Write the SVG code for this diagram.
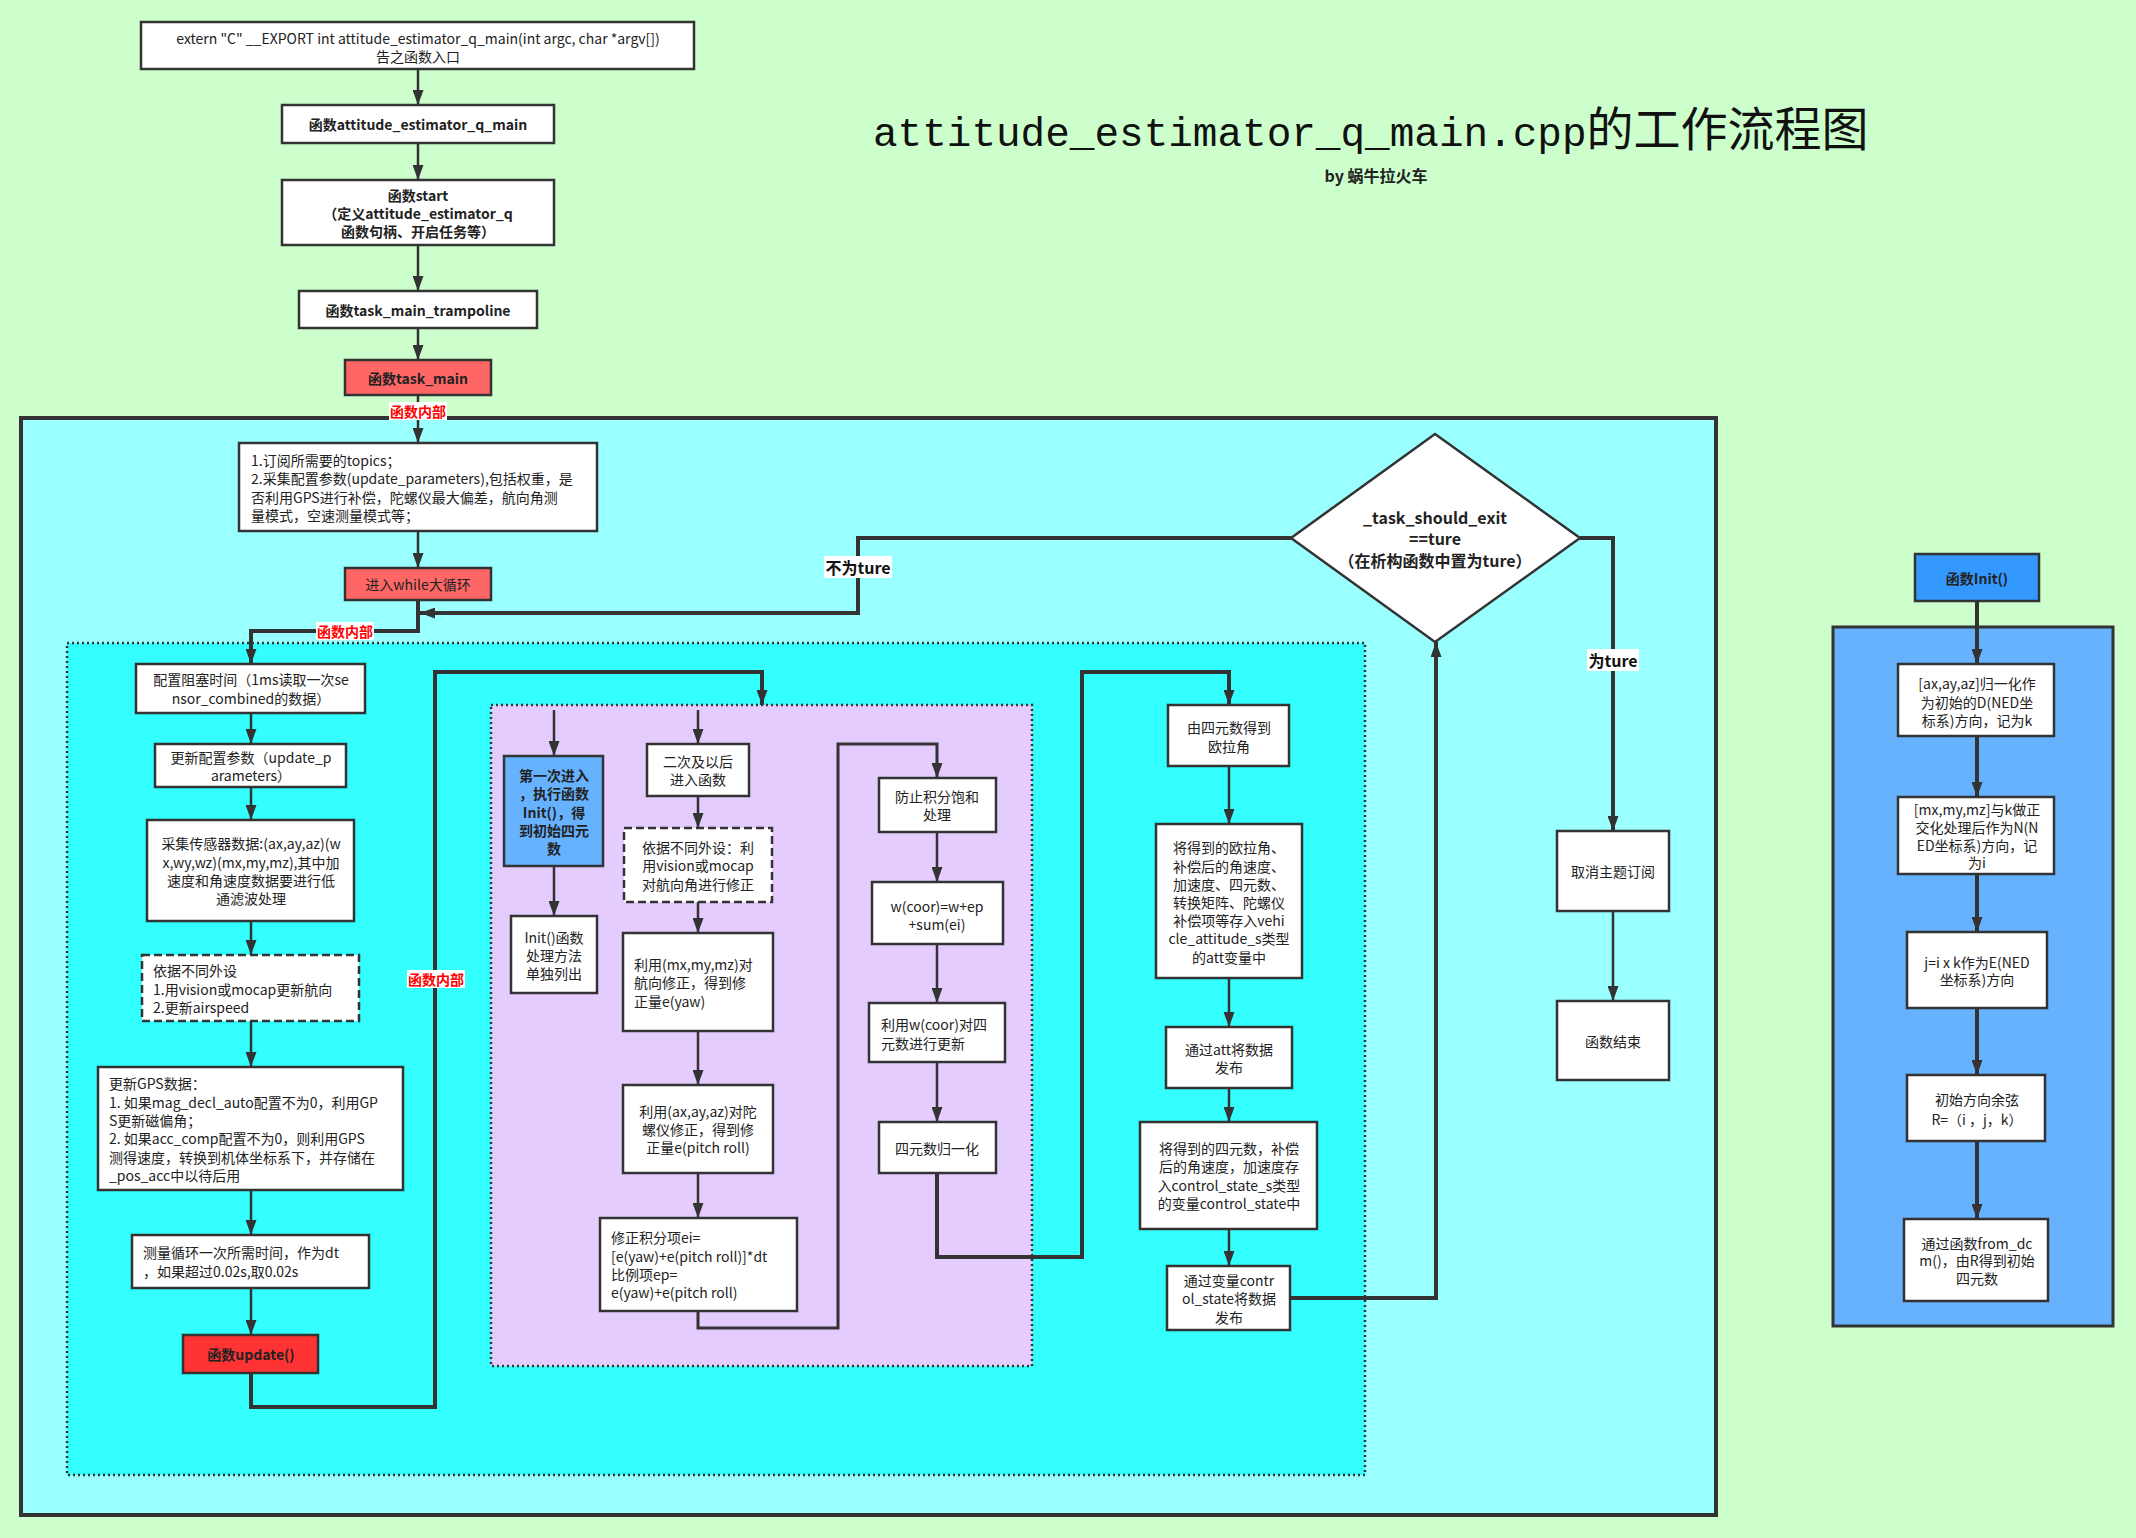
<svg xmlns="http://www.w3.org/2000/svg" width="2136" height="1538" viewBox="0 0 2136 1538">
<defs>
<style>
.n{fill:#fff;stroke:#333;stroke-width:2.5}
.d{stroke-dasharray:8 4}
.t{font-family:"Noto Sans CJK SC","Liberation Sans",sans-serif;font-size:14px;fill:#222;dominant-baseline:central}
.m{text-anchor:middle}
.b{font-weight:bold}
.c{fill:none;stroke:#333;stroke-width:2.5}
.k{stroke-width:4}
.lbg{fill:#fff;stroke:none}
.lr{font-family:"Noto Sans CJK SC","Liberation Sans",sans-serif;font-size:14px;font-weight:bold;fill:#ff0000;text-anchor:middle;dominant-baseline:central}
.lb{font-family:"Noto Sans CJK SC","Liberation Sans",sans-serif;font-size:16px;font-weight:bold;fill:#111;text-anchor:middle;dominant-baseline:central}
</style>
<marker id="a" viewBox="0 0 15 11" refX="15" refY="5.5" markerWidth="15" markerHeight="11" markerUnits="userSpaceOnUse" orient="auto">
<path d="M0,0 L15,5.5 L0,11 z" fill="#333"/>
</marker>
</defs>
<rect x="0" y="0" width="2136" height="1538" fill="#ccffcc"/>

<g id="title">
<text x="873" y="146" fill="#111"><tspan font-family="Liberation Mono, monospace" font-size="41">attitude_estimator_q_main.cpp</tspan><tspan font-family="Noto Sans CJK SC, sans-serif" font-size="47">的工作流程图</tspan></text>
<text x="1376" y="175" class="t m b" style="font-size:16px">by 蜗牛拉火车</text>
</g>

<g id="containers">
<rect x="21" y="418" width="1695" height="1097" fill="#99ffff" stroke="#333" stroke-width="4"/>
<rect x="67" y="643" width="1298" height="832" fill="#33ffff" stroke="#333" stroke-width="2.5" stroke-dasharray="2 3"/>
<rect x="491" y="705" width="541" height="661" fill="#e5ccff" stroke="#333" stroke-width="2.5" stroke-dasharray="2 3"/>
<rect x="1833" y="627" width="280" height="699" fill="#66b2ff" stroke="#333" stroke-width="3"/>
</g>

<g id="connectors">
<path class="c" d="M418,69 V105" marker-end="url(#a)"/>
<path class="c" d="M418,143 V180" marker-end="url(#a)"/>
<path class="c" d="M418,245 V291" marker-end="url(#a)"/>
<path class="c" d="M418,328 V360" marker-end="url(#a)"/>
<path class="c" d="M418,395 V443" marker-end="url(#a)"/>
<path class="c" d="M418,531 V568" marker-end="url(#a)"/>
<path class="c k" d="M418,600 V631 H251 V664" marker-end="url(#a)"/>
<path class="c k" d="M1291,538 H858 V613 H420" marker-end="url(#a)"/>
<path class="c k" d="M1580,538 H1613 V831" marker-end="url(#a)"/>
<path class="c" d="M1613,911 V1001" marker-end="url(#a)"/>
<path class="c" d="M251,713 V744" marker-end="url(#a)"/>
<path class="c" d="M251,787 V820" marker-end="url(#a)"/>
<path class="c" d="M251,921 V955" marker-end="url(#a)"/>
<path class="c" d="M251,1021 V1067" marker-end="url(#a)"/>
<path class="c" d="M251,1190 V1235" marker-end="url(#a)"/>
<path class="c" d="M251,1288 V1335" marker-end="url(#a)"/>
<path class="c k" d="M251,1373 V1407 H435 V672 H762 V705" marker-end="url(#a)"/>
<path class="c" d="M554,710 V756" marker-end="url(#a)"/>
<path class="c" d="M554,866 V916" marker-end="url(#a)"/>
<path class="c" d="M698,710 V744" marker-end="url(#a)"/>
<path class="c" d="M698,796 V828" marker-end="url(#a)"/>
<path class="c" d="M698,902 V933" marker-end="url(#a)"/>
<path class="c" d="M698,1031 V1085" marker-end="url(#a)"/>
<path class="c" d="M698,1173 V1218" marker-end="url(#a)"/>
<path class="c" style="stroke-width:3" d="M698,1311 V1328 H838 V744 H937 V778" marker-end="url(#a)"/>
<path class="c" d="M937,832 V882" marker-end="url(#a)"/>
<path class="c" d="M937,944 V1003" marker-end="url(#a)"/>
<path class="c" d="M937,1062 V1122" marker-end="url(#a)"/>
<path class="c k" d="M937,1173 V1257 H1082 V672 H1229 V705" marker-end="url(#a)"/>
<path class="c" d="M1229,766 V824" marker-end="url(#a)"/>
<path class="c" d="M1229,978 V1027" marker-end="url(#a)"/>
<path class="c" d="M1229,1088 V1122" marker-end="url(#a)"/>
<path class="c" d="M1229,1229 V1266" marker-end="url(#a)"/>
<path class="c k" d="M1290,1298 H1436 V642" marker-end="url(#a)"/>
<path class="c k" d="M1977,601 V664" marker-end="url(#a)"/>
<path class="c k" d="M1977,736 V797" marker-end="url(#a)"/>
<path class="c k" d="M1977,874 V932" marker-end="url(#a)"/>
<path class="c k" d="M1977,1008 V1075" marker-end="url(#a)"/>
<path class="c k" d="M1977,1141 V1219" marker-end="url(#a)"/>
<g id="conn-labels">
<rect class="lbg" x="389" y="402" width="58" height="18"/>
<text class="lr" x="418" y="411">函数内部</text>
<rect class="lbg" x="316" y="622" width="58" height="18"/>
<text class="lr" x="345" y="631">函数内部</text>
<rect class="lbg" x="407" y="970" width="58" height="18"/>
<text class="lr" x="436" y="979">函数内部</text>
<rect class="lbg" x="824" y="556" width="68" height="22"/>
<text class="lb" x="858" y="567">不为ture</text>
<rect class="lbg" x="1587" y="649" width="52" height="22"/>
<text class="lb" x="1613" y="660">为ture</text>
</g>
</g>

<g id="n-entry">
<rect class="n" x="141" y="22" width="553" height="47"/>
<text class="t m" x="418" y="38">extern "C" __EXPORT int attitude_estimator_q_main(int argc, char *argv[])</text>
<text class="t m" x="418" y="56">告之函数入口</text>
</g>
<g id="n-main">
<rect class="n" x="282" y="105" width="272" height="38"/>
<text class="t m b" x="418" y="124">函数attitude_estimator_q_main</text>
</g>
<g id="n-start">
<rect class="n" x="282" y="180" width="272" height="65"/>
<text class="t m b" x="418"><tspan x="418" y="195">函数start</tspan><tspan x="418" y="213">（定义attitude_estimator_q</tspan><tspan x="418" y="231">函数句柄、开启任务等）</tspan></text>
</g>
<g id="n-trampoline">
<rect class="n" x="299" y="291" width="238" height="37"/>
<text class="t m b" x="418" y="310">函数task_main_trampoline</text>
</g>
<g id="n-taskmain">
<rect class="n" style="fill:#ff6666" x="345" y="360" width="146" height="35"/>
<text class="t m b" x="418" y="378">函数task_main</text>
</g>
<g id="n-topics">
<rect class="n" x="239" y="443" width="358" height="88"/>
<text class="t" x="251"><tspan x="251" y="460">1.订阅所需要的topics；</tspan><tspan x="251" y="478">2.采集配置参数(update_parameters),包括权重，是</tspan><tspan x="251" y="497">否利用GPS进行补偿，陀螺仪最大偏差，航向角测</tspan><tspan x="251" y="515">量模式，空速测量模式等；</tspan></text>
</g>
<g id="n-while">
<rect class="n" style="fill:#ff6666" x="345" y="568" width="146" height="32"/>
<text class="t m" x="418" y="584">进入while大循环</text>
</g>
<g id="n-block">
<rect class="n" x="136" y="664" width="229" height="49"/>
<text class="t m"><tspan x="251" y="679">配置阻塞时间（1ms读取一次se</tspan><tspan x="251" y="698">nsor_combined的数据）</tspan></text>
</g>
<g id="n-params">
<rect class="n" x="155" y="744" width="191" height="43"/>
<text class="t m"><tspan x="251" y="757">更新配置参数（update_p</tspan><tspan x="251" y="775">arameters）</tspan></text>
</g>
<g id="n-sensors">
<rect class="n" x="147" y="820" width="207" height="101"/>
<text class="t m"><tspan x="251" y="843">采集传感器数据:(ax,ay,az)(w</tspan><tspan x="251" y="862">x,wy,wz)(mx,my,mz),其中加</tspan><tspan x="251" y="880">速度和角速度数据要进行低</tspan><tspan x="251" y="898">通滤波处理</tspan></text>
</g>
<g id="n-ext">
<rect class="n d" x="142" y="955" width="217" height="66"/>
<text class="t"><tspan x="153" y="970">依据不同外设</tspan><tspan x="153" y="989">1.用vision或mocap更新航向</tspan><tspan x="153" y="1007">2.更新airspeed</tspan></text>
</g>
<g id="n-gps">
<rect class="n" x="98" y="1067" width="305" height="123"/>
<text class="t"><tspan x="109" y="1083">更新GPS数据：</tspan><tspan x="109" y="1102">1. 如果mag_decl_auto配置不为0，利用GP</tspan><tspan x="109" y="1120">S更新磁偏角；</tspan><tspan x="109" y="1138">2. 如果acc_comp配置不为0，则利用GPS</tspan><tspan x="109" y="1157">测得速度，转换到机体坐标系下，并存储在</tspan><tspan x="109" y="1175">_pos_acc中以待后用</tspan></text>
</g>
<g id="n-dt">
<rect class="n" x="132" y="1235" width="237" height="53"/>
<text class="t"><tspan x="143" y="1252">测量循环一次所需时间，作为dt</tspan><tspan x="143" y="1271">，如果超过0.02s,取0.02s</tspan></text>
</g>
<g id="n-update">
<rect class="n" style="fill:#ff3333" x="183" y="1335" width="135" height="38"/>
<text class="t m b" x="251" y="1354">函数update()</text>
</g>
<g id="n-first">
<rect class="n" style="fill:#66b2ff" x="504" y="756" width="99" height="110"/>
<text class="t m b"><tspan x="554" y="775">第一次进入</tspan><tspan x="554" y="793">，执行函数</tspan><tspan x="554" y="812">Init()，得</tspan><tspan x="554" y="830">到初始四元</tspan><tspan x="554" y="848">数</tspan></text>
</g>
<g id="n-initsep">
<rect class="n" x="511" y="916" width="86" height="77"/>
<text class="t m"><tspan x="554" y="937">Init()函数</tspan><tspan x="554" y="955">处理方法</tspan><tspan x="554" y="973">单独列出</tspan></text>
</g>
<g id="n-second">
<rect class="n" x="647" y="744" width="102" height="52"/>
<text class="t m"><tspan x="698" y="761">二次及以后</tspan><tspan x="698" y="779">进入函数</tspan></text>
</g>
<g id="n-ext2">
<rect class="n d" x="624" y="828" width="148" height="74"/>
<text class="t m"><tspan x="698" y="847">依据不同外设：利</tspan><tspan x="698" y="865">用vision或mocap</tspan><tspan x="698" y="884">对航向角进行修正</tspan></text>
</g>
<g id="n-eyaw">
<rect class="n" x="623" y="933" width="150" height="98"/>
<text class="t"><tspan x="634" y="964">利用(mx,my,mz)对</tspan><tspan x="634" y="982">航向修正，得到修</tspan><tspan x="634" y="1001">正量e(yaw)</tspan></text>
</g>
<g id="n-epr">
<rect class="n" x="623" y="1085" width="150" height="88"/>
<text class="t m"><tspan x="698" y="1111">利用(ax,ay,az)对陀</tspan><tspan x="698" y="1129">螺仪修正，得到修</tspan><tspan x="698" y="1147">正量e(pitch roll)</tspan></text>
</g>
<g id="n-ei">
<rect class="n" x="600" y="1218" width="197" height="93"/>
<text class="t"><tspan x="611" y="1237">修正积分项ei=</tspan><tspan x="611" y="1256">[e(yaw)+e(pitch roll)]*dt</tspan><tspan x="611" y="1274">比例项ep=</tspan><tspan x="611" y="1292">e(yaw)+e(pitch roll)</tspan></text>
</g>
<g id="n-sat">
<rect class="n" x="879" y="778" width="117" height="54"/>
<text class="t m"><tspan x="937" y="796">防止积分饱和</tspan><tspan x="937" y="814">处理</tspan></text>
</g>
<g id="n-wcoor">
<rect class="n" x="872" y="882" width="131" height="62"/>
<text class="t m"><tspan x="937" y="906">w(coor)=w+ep</tspan><tspan x="937" y="924">+sum(ei)</tspan></text>
</g>
<g id="n-qupd">
<rect class="n" x="869" y="1003" width="136" height="59"/>
<text class="t"><tspan x="881" y="1024">利用w(coor)对四</tspan><tspan x="881" y="1043">元数进行更新</tspan></text>
</g>
<g id="n-qnorm">
<rect class="n" x="879" y="1122" width="117" height="51"/>
<text class="t m" x="937" y="1148">四元数归一化</text>
</g>
<g id="n-euler">
<rect class="n" x="1168" y="705" width="121" height="61"/>
<text class="t m"><tspan x="1229" y="727">由四元数得到</tspan><tspan x="1229" y="746">欧拉角</tspan></text>
</g>
<g id="n-att">
<rect class="n" x="1156" y="824" width="146" height="154"/>
<text class="t m"><tspan x="1229" y="847">将得到的欧拉角、</tspan><tspan x="1229" y="866">补偿后的角速度、</tspan><tspan x="1229" y="884">加速度、四元数、</tspan><tspan x="1229" y="902">转换矩阵、陀螺仪</tspan><tspan x="1229" y="920">补偿项等存入vehi</tspan><tspan x="1229" y="938">cle_attitude_s类型</tspan><tspan x="1229" y="957">的att变量中</tspan></text>
</g>
<g id="n-attpub">
<rect class="n" x="1166" y="1027" width="126" height="61"/>
<text class="t m"><tspan x="1229" y="1049">通过att将数据</tspan><tspan x="1229" y="1067">发布</tspan></text>
</g>
<g id="n-cs">
<rect class="n" x="1140" y="1122" width="177" height="107"/>
<text class="t m"><tspan x="1229" y="1148">将得到的四元数，补偿</tspan><tspan x="1229" y="1166">后的角速度，加速度存</tspan><tspan x="1229" y="1185">入control_state_s类型</tspan><tspan x="1229" y="1203">的变量control_state中</tspan></text>
</g>
<g id="n-cspub">
<rect class="n" x="1167" y="1266" width="123" height="64"/>
<text class="t m"><tspan x="1229" y="1280">通过变量contr</tspan><tspan x="1229" y="1298">ol_state将数据</tspan><tspan x="1229" y="1317">发布</tspan></text>
</g>
<g id="n-exit">
<polygon class="n" points="1435,434 1580,538 1435,642 1291,538"/>
<text class="t m b" style="font-size:16px"><tspan x="1435" y="517">_task_should_exit</tspan><tspan x="1435" y="538">==ture</tspan><tspan x="1435" y="560">（在析构函数中置为ture）</tspan></text>
</g>
<g id="n-unsub">
<rect class="n" x="1557" y="831" width="112" height="80"/>
<text class="t m" x="1613" y="871">取消主题订阅</text>
</g>
<g id="n-end">
<rect class="n" x="1557" y="1001" width="112" height="79"/>
<text class="t m" x="1613" y="1041">函数结束</text>
</g>
<g id="n-init">
<rect class="n" style="fill:#3399ff" x="1915" y="554" width="124" height="47"/>
<text class="t m b" x="1977" y="578">函数Init()</text>
</g>
<g id="n-i1">
<rect class="n" x="1898" y="664" width="156" height="72"/>
<text class="t m"><tspan x="1977" y="683">[ax,ay,az]归一化作</tspan><tspan x="1977" y="702">为初始的D(NED坐</tspan><tspan x="1977" y="720">标系)方向，记为k</tspan></text>
</g>
<g id="n-i2">
<rect class="n" x="1898" y="797" width="156" height="77"/>
<text class="t m"><tspan x="1977" y="809">[mx,my,mz]与k做正</tspan><tspan x="1977" y="827">交化处理后作为N(N</tspan><tspan x="1977" y="845">ED坐标系)方向，记</tspan><tspan x="1977" y="862">为i</tspan></text>
</g>
<g id="n-i3">
<rect class="n" x="1907" y="932" width="140" height="76"/>
<text class="t m"><tspan x="1977" y="962">j=i x k作为E(NED</tspan><tspan x="1977" y="979">坐标系)方向</tspan></text>
</g>
<g id="n-i4">
<rect class="n" x="1907" y="1075" width="138" height="66"/>
<text class="t m"><tspan x="1977" y="1099">初始方向余弦</tspan><tspan x="1977" y="1119">R=（i ，j，k）</tspan></text>
</g>
<g id="n-i5">
<rect class="n" x="1904" y="1219" width="144" height="82"/>
<text class="t m"><tspan x="1977" y="1243">通过函数from_dc</tspan><tspan x="1977" y="1260">m()，由R得到初始</tspan><tspan x="1977" y="1278">四元数</tspan></text>
</g>
</svg>
